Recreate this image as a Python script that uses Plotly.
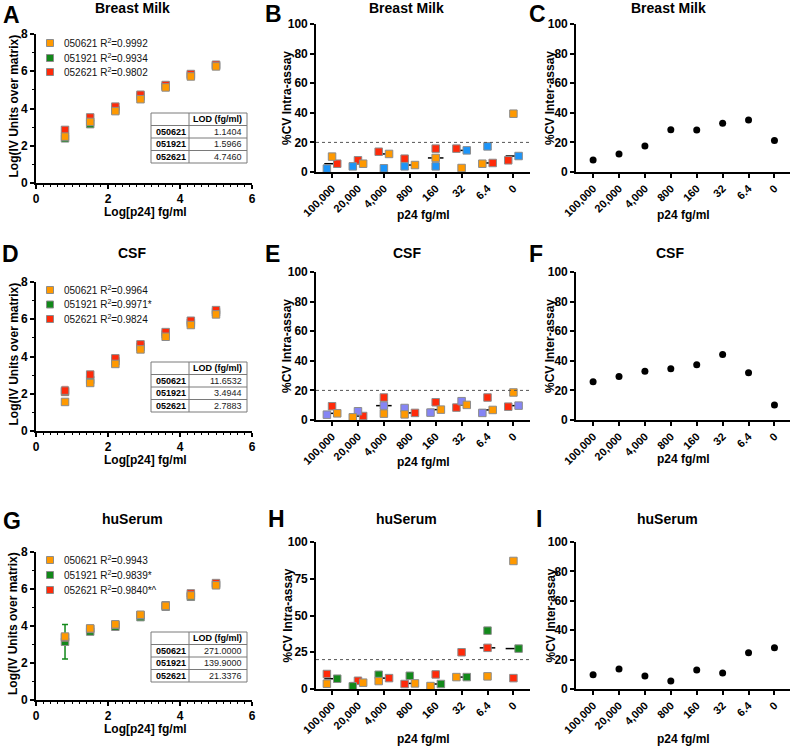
import numpy as np
import plotly.graph_objects as go

W, H = 792, 747
FONT = "Liberation Sans, Arial, sans-serif"

# ---------------- data ----------------
conc_labels = ["100,000", "20,000", "4,000", "800", "160", "32", "6.4", "0"]
std_conc = [6.4, 32, 160, 800, 4000, 20000, 100000]  # fg/ml (standard curve)
runs = ["050621", "051921", "052621"]

# Standard curves: Log(IV units over matrix) per run, ordered by std_conc
bm_050621 = [2.49, 3.28, 3.86, 4.50, 5.13, 5.72, 6.26]
bm_051921 = [2.40, 3.16, 3.93, 4.65, 5.18, 5.79, 6.31]
bm_052621 = [2.85, 3.52, 4.10, 4.74, 5.26, 5.85, 6.35]
bm_r2 = ["0.9992", "0.9934", "0.9802"]
bm_lod = ["1.1404", "1.5966", "4.7460"]

csf_050621 = [1.56, 2.58, 3.60, 4.38, 5.06, 5.69, 6.26]
csf_051921 = [2.10, 2.74, 3.75, 4.52, 5.19, 5.81, 6.38]
csf_052621 = [2.17, 3.03, 3.90, 4.65, 5.31, 5.92, 6.49]
csf_052621_sd = [0.22, 0, 0, 0, 0, 0, 0]
csf_r2 = ["0.9964", "0.9971*", "0.9824"]
csf_lod = ["11.6532", "3.4944", "2.7883"]

hs_050621 = [3.43, 3.87, 4.09, 4.61, 5.09, 5.65, 6.20]
hs_051921 = [3.15, 3.70, 3.96, 4.48, 5.04, 5.58, 6.24]
hs_051921_sd = [0.93, 0, 0, 0, 0, 0, 0]
hs_052621 = [3.38, 3.84, 4.06, 4.58, 5.12, 5.76, 6.32]
hs_r2 = ["0.9943", "0.9839*", "0.9840*^"]
hs_lod = ["271.0000", "139.9000", "21.3376"]

# Intra-assay %CV per run, ordered by conc_labels
bm_intra_050621 = [10.4, 5.6, 12.2, 4.7, 9.5, 2.7, 5.6, 39.4]
bm_intra_051921 = [2.3, 3.8, 2.5, 3.8, 3.8, 14.6, 17.3, 10.8]
bm_intra_052621 = [5.6, 7.9, 13.7, 9.0, 15.8, 15.8, 6.1, 7.9]

csf_intra_050621 = [4.5, 1.8, 4.3, 3.8, 7.0, 10.2, 6.8, 18.6]
csf_intra_051921 = [3.6, 5.9, 9.7, 8.1, 5.0, 12.7, 4.8, 9.7]
csf_intra_052621 = [9.3, 2.7, 15.2, 4.8, 12.0, 8.4, 15.2, 9.0]

hs_intra_050621 = [3.6, 4.3, 5.4, 3.8, 2.0, 8.1, 8.6, 87.1]
hs_intra_051921 = [7.0, 1.8, 9.7, 9.0, 3.4, 8.1, 39.7, 27.5]
hs_intra_052621 = [10.2, 5.6, 7.4, 3.4, 9.9, 25.0, 28.0, 7.4]

# Inter-assay %CV
bm_inter = [8.1, 12.2, 17.6, 28.6, 28.4, 32.9, 35.1, 21.2]
csf_inter = [25.8, 29.4, 33.0, 34.6, 37.3, 44.3, 31.9, 10.2]
hs_inter = [9.7, 13.6, 8.8, 5.4, 12.9, 10.9, 24.7, 28.1]

# horizontal jitter of the scatter columns (category units)
bm_jit = {"050621": [0, .2, .2, .2, 0, 0, -.2, 0],
          "051921": [-.2, -.2, 0, -.2, 0, .2, 0, .2],
          "052621": [.2, 0, -.2, -.2, 0, -.2, .2, -.2]}
csf_jit = {"050621": [.2, -.2, 0, -.2, .2, .2, .2, 0],
           "051921": [-.2, 0, 0, -.2, -.2, 0, -.2, .2],
           "052621": [0, .2, 0, .2, 0, -.2, 0, -.2]}
hs_jit = {"050621": [-.2, .2, -.2, .2, -.2, -.2, 0, 0],
          "051921": [.2, -.2, -.2, 0, .2, .2, 0, .2],
          "052621": [-.2, 0, .2, -.2, 0, 0, 0, 0]}

# ---------------- styles ----------------
ORANGE = "#FF9900"
GREEN = "#12891A"
RED = "#FF2A0A"
BLUE = "#1C95FA"
LAV = "#8585F5"
EDGE = "#8C8C8C"


def px(x):
    return x / W


def py(y):
    return 1 - y / H


fig = go.Figure()
layout = {}
annotations = []
shapes = []

# panel geometry (pixels): x0, x1, ytop, ybottom
panels = {
    1: (36, 252, 34, 183), 2: (316, 530, 24, 172), 3: (576, 790, 24, 172),
    4: (36, 252, 282, 431), 5: (316, 530, 272, 420), 6: (576, 790, 272, 420),
    7: (36, 252, 552, 700), 8: (316, 530, 542, 689), 9: (576, 790, 542, 689),
}

axis_common = dict(showline=True, linecolor="black", linewidth=1.6, ticks="outside",
                   ticklen=4, tickwidth=1.5, tickcolor="black", showgrid=False,
                   zeroline=False, fixedrange=True, automargin=False,
                   tickfont=dict(family=FONT, size=12, color="black", weight="bold"))


def set_axes(i, xr, yr, xkw, ykw):
    x0, x1, yt, yb = panels[i]
    sfx = "" if i == 1 else str(i)
    layout["xaxis" + sfx] = dict(axis_common, domain=[px(x0), px(x1)], range=xr,
                                 anchor="y" + sfx, **xkw)
    layout["yaxis" + sfx] = dict(axis_common, domain=[py(yb), py(yt)], range=yr,
                                 anchor="x" + sfx, **ykw)
    return "x" + sfx, "y" + sfx


def std_panel(i, series, sds, r2s, lods, leg_y, tab_top):
    xa, ya = set_axes(i, [0, 6], [0, 8],
                      dict(tickvals=[0, 2, 4, 6],
                           minor=dict(dtick=0.2, ticks="outside", ticklen=2.5,
                                      tickwidth=1, tickcolor="black")),
                      dict(tickvals=[0, 2, 4, 6, 8],
                           minor=dict(dtick=1, ticks="outside", ticklen=2.5,
                                      tickwidth=1, tickcolor="black")))
    xs = np.log10(std_conc)
    colors = {"050621": ORANGE, "051921": GREEN, "052621": RED}
    for run in ["051921", "052621", "050621"]:
        vals = series[run]
        sd = sds.get(run)
        err = None
        if sd is not None:
            ecol = GREEN if run == "051921" else "rgba(255,60,40,0.45)"
            err = dict(type="data", array=sd, visible=True, color=ecol,
                       thickness=1.5, width=3)
        fig.add_trace(go.Scatter(x=xs, y=vals, mode="markers", xaxis=xa, yaxis=ya,
                                 error_y=err, showlegend=False, hoverinfo="skip",
                                 marker=dict(symbol="square", size=7.5, color=colors[run],
                                             line=dict(color=EDGE, width=1))))
    # legend
    for k, run in enumerate(runs):
        yy = leg_y[k]
        shapes.append(dict(type="rect", xref="paper", yref="paper",
                           x0=px(46.5), x1=px(53.5), y0=py(yy + 3.5), y1=py(yy - 3.5),
                           fillcolor=colors[run], line=dict(color=EDGE, width=1)))
        annotations.append(dict(x=px(62), y=py(yy), xref="paper", yref="paper",
                                text=f"{run} R<sup>2</sup>={r2s[k]}", showarrow=False,
                                xanchor="left", yanchor="middle",
                                font=dict(family=FONT, size=10, color="#111")))
    # LOD table
    tx0, tx1, tdiv, rh = 151, 247, 189, 12.5
    tb = tab_top + 4 * rh
    lc = dict(color="#7a7a7a", width=1)
    shapes.append(dict(type="rect", xref="paper", yref="paper", x0=px(tx0), x1=px(tx1),
                       y0=py(tb), y1=py(tab_top), line=lc, fillcolor="white"))
    shapes.append(dict(type="line", xref="paper", yref="paper", x0=px(tdiv), x1=px(tdiv),
                       y0=py(tb), y1=py(tab_top), line=lc))
    for r in range(1, 4):
        yl = tab_top + r * rh
        shapes.append(dict(type="line", xref="paper", yref="paper", x0=px(tx0), x1=px(tx1),
                           y0=py(yl), y1=py(yl), line=lc))
    annotations.append(dict(x=px(tx1 - 3), y=py(tab_top + rh / 2), xref="paper", yref="paper",
                            text="<b>LOD (fg/ml)</b>", showarrow=False, xanchor="right",
                            yanchor="middle", font=dict(family=FONT, size=9, color="black")))
    for k, run in enumerate(runs):
        yc = tab_top + (k + 1.5) * rh
        annotations.append(dict(x=px(tx0 + 3), y=py(yc), xref="paper", yref="paper",
                                text=f"<b>{run}</b>", showarrow=False, xanchor="left",
                                yanchor="middle", font=dict(family=FONT, size=9, color="black")))
        annotations.append(dict(x=px(tx1 - 3), y=py(yc), xref="paper", yref="paper",
                                text=lods[k], showarrow=False, xanchor="right",
                                yanchor="middle", font=dict(family=FONT, size=9, color="#222")))


def cat_axes(i, yr, ytick):
    xr = [-0.62, 7.64] if i % 3 == 2 else [-0.66, 7.6]
    return set_axes(i, xr, yr,
                    dict(tickvals=list(range(8)), ticktext=conc_labels, tickangle=-45,
                         tickfont=dict(family=FONT, size=11, color="black", weight="bold")),
                    dict(tickvals=ytick))


def intra_panel(i, series, jit, colors, yr, ytick):
    xa, ya = cat_axes(i, yr, ytick)
    cats = np.arange(8)
    arr = np.array([series[r] for r in runs])
    med = np.median(arr, axis=0)
    mx, my = [], []
    for c in cats:
        mx += [c - 0.3, c + 0.3, None]
        my += [med[c], med[c], None]
    shapes.append(dict(type="line", xref=xa + " domain", yref=ya, x0=0, x1=1, y0=20, y1=20,
                       line=dict(color="#555", width=1, dash="dot")))
    fig.add_trace(go.Scatter(x=mx, y=my, mode="lines", xaxis=xa, yaxis=ya,
                             line=dict(color="black", width=1.5), showlegend=False,
                             hoverinfo="skip"))
    for run in ["052621", "051921", "050621"]:
        fig.add_trace(go.Scatter(x=cats + np.array(jit[run]), y=series[run], mode="markers",
                                 xaxis=xa, yaxis=ya, showlegend=False, hoverinfo="skip",
                                 marker=dict(symbol="square", size=7.5, color=colors[run],
                                             line=dict(color=EDGE, width=1))))


def inter_panel(i, vals):
    xa, ya = cat_axes(i, [0, 100], [0, 20, 40, 60, 80, 100])
    fig.add_trace(go.Scatter(x=list(range(8)), y=vals, mode="markers", xaxis=xa, yaxis=ya,
                             showlegend=False, hoverinfo="skip",
                             marker=dict(symbol="circle", size=7, color="black")))


std_panel(1, {"050621": bm_050621, "051921": bm_051921, "052621": bm_052621}, {},
          bm_r2, bm_lod, [43, 58, 72], 113)
std_panel(4, {"050621": csf_050621, "051921": csf_051921, "052621": csf_052621},
          {"052621": csf_052621_sd}, csf_r2, csf_lod, [290, 304.5, 319], 362)
std_panel(7, {"050621": hs_050621, "051921": hs_051921, "052621": hs_052621},
          {"051921": hs_051921_sd}, hs_r2, hs_lod, [560, 575, 590], 632)

intra_panel(2, {"050621": bm_intra_050621, "051921": bm_intra_051921, "052621": bm_intra_052621},
            bm_jit, {"050621": ORANGE, "051921": BLUE, "052621": RED}, [0, 100],
            [0, 20, 40, 60, 80, 100])
intra_panel(5, {"050621": csf_intra_050621, "051921": csf_intra_051921, "052621": csf_intra_052621},
            csf_jit, {"050621": ORANGE, "051921": LAV, "052621": RED}, [0, 100],
            [0, 20, 40, 60, 80, 100])
intra_panel(8, {"050621": hs_intra_050621, "051921": hs_intra_051921, "052621": hs_intra_052621},
            hs_jit, {"050621": ORANGE, "051921": GREEN, "052621": RED}, [0, 100],
            [0, 25, 50, 75, 100])

inter_panel(3, bm_inter)
inter_panel(6, csf_inter)
inter_panel(9, hs_inter)


def ann(x, y, text, size, bold=True, angle=0, xanchor="center"):
    annotations.append(dict(x=px(x), y=py(y), xref="paper", yref="paper",
                            text=text, showarrow=False, textangle=angle,
                            xanchor=xanchor, yanchor="middle",
                            font=dict(family=FONT, size=size, color="black",
                                      weight="bold" if bold else "normal")))


# titles
for (cx, cy, t) in [(132, 8, "Breast Milk"), (407, 8, "Breast Milk"), (668, 8, "Breast Milk"),
                    (132, 253, "CSF"), (407, 253, "CSF"), (670, 253, "CSF"),
                    (132, 519, "huSerum"), (407, 519, "huSerum"), (667, 519, "huSerum")]:
    ann(cx, cy, t, 14)

# panel letters
for (lx, ly, t) in [(1, 15, "A"), (263, 14, "B"), (527, 14, "C"),
                    (0, 254, "D"), (263, 254, "E"), (527, 254, "F"),
                    (1, 521, "G"), (266, 519, "H"), (534, 519, "I")]:
    ann(lx, ly, t, 23, xanchor="left")

# axis titles
for i in (1, 4, 7):
    x0, x1, yt, yb = panels[i]
    ann(13, (yt + yb) / 2 - 2, "Log(IV Units over matrix)", 12, angle=-90)
    ann((x0 + x1) / 2 + 1, yb + 29, "Log[p24] fg/ml", 12)
for i, xt in [(2, 215), (5, 462), (8, 739)]:
    x0, x1, yt, yb = panels[i]
    ann(287, (yt + yb) / 2, "%CV Intra-assay", 12, angle=-90)
    ann((x0 + x1) / 2, xt, "p24 fg/ml", 12)
for i, xt in [(3, 215), (6, 459), (9, 739)]:
    x0, x1, yt, yb = panels[i]
    ann(550, (yt + yb) / 2, "%CV Inter-assay", 12, angle=-90)
    ann((x0 + x1) / 2, xt, "p24 fg/ml", 12)

fig.update_layout(**layout)
fig.update_layout(width=W, height=H, margin=dict(l=0, r=0, t=0, b=0, autoexpand=False),
                  paper_bgcolor="white", plot_bgcolor="white",
                  annotations=annotations, shapes=shapes, hovermode=False,
                  font=dict(family=FONT, color="black"))
fig.write_html("out.html", config={"displayModeBar": False},
               post_script="document.body.style.margin='0px';"
                           "document.body.style.overflow='hidden';")
